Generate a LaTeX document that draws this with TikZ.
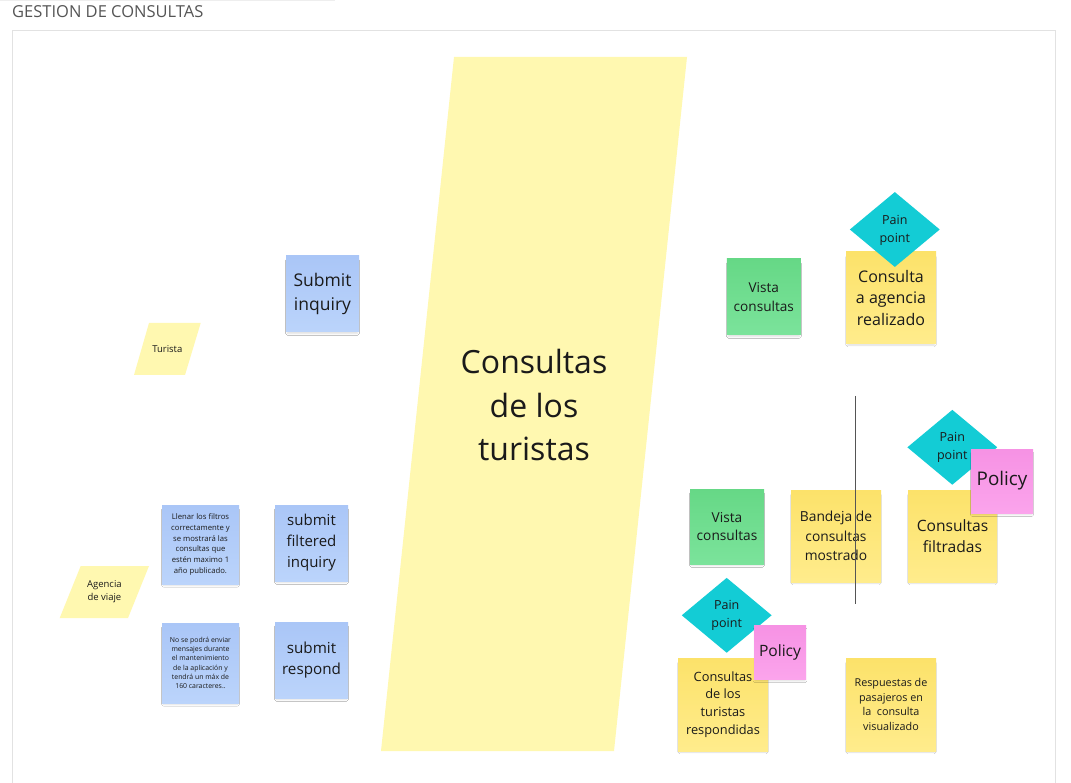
\documentclass[tikz,border=0pt]{standalone}
\usepackage{fontspec}
\setmainfont{Open Sans}
\usetikzlibrary{shapes.geometric,shadows.blur}
\definecolor{ylwT}{HTML}{FCE26A}
\definecolor{ylwB}{HTML}{FFEC8C}
\definecolor{grnT}{HTML}{66D886}
\definecolor{grnB}{HTML}{7BE39B}
\definecolor{bluT}{HTML}{AAC6F7}
\definecolor{bluB}{HTML}{BBD4FB}
\definecolor{pnkT}{HTML}{F692E4}
\definecolor{pnkB}{HTML}{FBA4EC}
\definecolor{cyan1}{HTML}{13CCD5}
\definecolor{paleY}{HTML}{FFF8B0}
\definecolor{txt}{HTML}{1A1A1A}
\definecolor{frame}{HTML}{E2E2E2}
\definecolor{titlec}{HTML}{555555}
\newcommand{\painlbl}{\raisebox{-2.5pt}{\begin{tabular}{@{}c@{}}Pain\\point\end{tabular}}}
\tikzset{
  x=1pt,y=-1pt,
  sticky/.style={rectangle, inner sep=0pt, align=center, text=txt,
    blur shadow={shadow xshift=0pt, shadow yshift=-3pt, shadow scale=0.96, shadow blur radius=2pt,
      shadow blur extra rounding=0pt, shadow opacity=14, shadow blur steps=5}},
  yel/.style={sticky, top color=ylwT, bottom color=ylwB},
  grn/.style={sticky, top color=grnT, bottom color=grnB},
  blu/.style={sticky, top color=bluT, bottom color=bluB},
  pnk/.style={sticky, top color=pnkT, bottom color=pnkB},
  pain/.style={diamond, fill=cyan1, inner sep=0pt, align=center, text=txt,
    minimum width=90pt, minimum height=75pt, aspect=1.2,
    font=\fontsize{12.5}{18}\selectfont},
  para/.style={fill=paleY},
  lbl/.style={inner sep=0pt, align=center, text=txt}
}
\begin{document}
\begin{tikzpicture}
\useasboundingbox (0,0) rectangle (1071,783);
\fill[white] (0,0) rectangle (1071,783);
% top faint line and frame
\draw[frame!60, line width=1pt] (0,0.8) -- (335,0.8);
\draw[frame, line width=0.8pt] (12,790) -- (12,30.5) -- (1055,30.5) -- (1055,790);
\node[anchor=base west, inner sep=0pt, text=titlec, font=\fontsize{16.5}{20}\selectfont] (title) at (12,17.5) {GESTION DE CONSULTAS};

% big parallelogram
\fill[para] (454,57) -- (687,57) -- (614,751) -- (381,751) -- cycle;
\node[lbl, font=\fontsize{32}{43.5}\selectfont] (big) at (534,405) {Consultas\\de los\\turistas};

% actors
\fill[para] (149,323) -- (200.7,323) -- (185,375) -- (134,375) -- cycle;
\node[lbl, font=\fontsize{9.5}{13}\selectfont] (turista) at (167.3,349) {Turista};
\fill[para] (80.7,566) -- (149,566) -- (128,618) -- (59.7,618) -- cycle;
\node[lbl, font=\fontsize{9.5}{13.3}\selectfont] (agencia) at (104.4,592) {Agencia\\de viaje};

% blue stickies
\node[blu, minimum width=73pt, minimum height=76pt, font=\fontsize{17.5}{24}\selectfont] (subinq) at (322.5,294) {Submit\\inquiry};
\node[blu, minimum width=77pt, minimum height=79pt, font=\fontsize{7.7}{10.7}\selectfont] (note1) at (200.5,544.5) {Llenar los filtros\\correctamente y\\se mostrará las\\consultas que\\estén maximo 1\\año publicado.};
\node[blu, minimum width=73pt, minimum height=76pt, font=\fontsize{15}{21}\selectfont] (subfil) at (311.5,543) {submit\\filtered\\inquiry};
\node[blu, minimum width=77pt, minimum height=80pt, font=\fontsize{6.9}{9.3}\selectfont] (note2) at (200.5,663) {No se podrá enviar\\mensajes durante\\el mantenimiento\\de la aplicación y\\tendrá un máx de\\160 caracteres..};
\node[blu, minimum width=73pt, minimum height=76pt, font=\fontsize{15.2}{21}\selectfont] (subres) at (311.5,660) {submit\\respond};

% right side row 1
\node[grn, minimum width=74pt, minimum height=76pt, font=\fontsize{13.6}{18.7}\selectfont] (vista1) at (763.8,297) {Vista\\consultas};
\node[yel, minimum width=90pt, minimum height=92pt, font=\fontsize{16}{21.7}\selectfont] (agreal) at (891,298) {Consulta\\a agencia\\realizado};
\node[pain] (pain1) at (894.8,229.5) {\painlbl};

% right side row 2
\node[grn, minimum width=74pt, minimum height=75pt, font=\fontsize{13.7}{18.7}\selectfont] (vista2) at (727,526.5) {Vista\\consultas};
\node[yel, minimum width=90pt, minimum height=92pt, font=\fontsize{13.8}{19.3}\selectfont] (bandeja) at (836,536) {Bandeja de\\consultas\\mostrado};
\node[yel, minimum width=89pt, minimum height=92pt, font=\fontsize{15.6}{21.7}\selectfont] (filtradas) at (952.5,536) {Consultas\\filtradas};
\node[pain] (pain2) at (952.3,447.3) {\painlbl};
\node[pnk, minimum width=62pt, minimum height=64pt, font=\fontsize{18.8}{24}\selectfont] (policy1) at (1002,481) {Policy};
\coordinate (vtop) at (855,396);
\coordinate (vbot) at (855,604);
\draw[titlec, line width=0.8pt] (vtop) -- (vbot);

% right side row 3
\node[yel, minimum width=90pt, minimum height=93pt, font=\fontsize{12.8}{17.7}\selectfont] (respondidas) at (723,704.5) {Consultas\\de los\\turistas\\respondidas};
\node[pain] (pain3) at (726.7,615.3) {\painlbl};
\node[pnk, minimum width=52pt, minimum height=54pt, font=\fontsize{15.6}{20}\selectfont] (policy2) at (780,652) {Policy};
\node[yel, minimum width=90pt, minimum height=93pt, font=\fontsize{10.8}{14.5}\selectfont] (respuestas) at (891,704.5) {Respuestas de\\pasajeros en\\la\ \ consulta\\visualizado};
\end{tikzpicture}
\end{document}
